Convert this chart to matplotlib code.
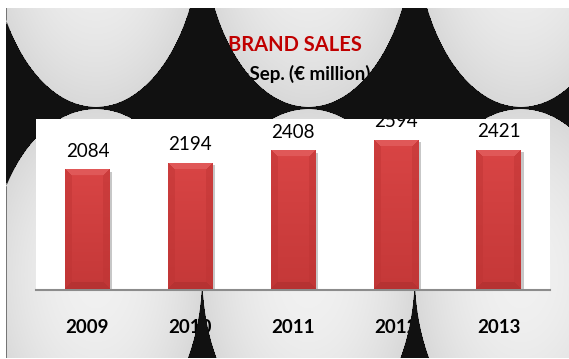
import numpy as np
import matplotlib
matplotlib.use('Agg')
import matplotlib.pyplot as plt
import matplotlib.patheffects as pe
from matplotlib import transforms
from matplotlib.path import Path
from matplotlib.patches import PathPatch, Rectangle

years = ['2009', '2010', '2011', '2012', '2013']
sales = [2084, 2194, 2408, 2594, 2421]

plt.rcParams['font.family'] = ['Lato', 'DejaVu Sans']

W, H = 569, 359
SURROUND = '#111111'
fig = plt.figure(figsize=(W / 100, H / 100), dpi=100)
fig.patch.set_facecolor('white')

# backdrop: tiled grey ellipses on black inside a white frame
ax_bg = fig.add_axes([0, 0, 1, 1])
ax_bg.set_xlim(0, W)
ax_bg.set_ylim(H, 0)
ax_bg.axis('off')

fx0, fy0, fx1, fy1 = 6.5, 8, W, 358
ell_cx = [-116.5, 96, 308.5, 521, 733.5]
ea = 106.25
# (centre y, half height) for each row of ellipses
ell_rows = [(-79, 186), (275, 166)]

field = Rectangle((fx0, fy0), fx1 - fx0, fy1 - fy0, facecolor=SURROUND,
                  edgecolor='none', zorder=0)
ax_bg.add_patch(field)

yy, xx = np.mgrid[0:H, 0:W] + 0.5
r2 = np.full((H, W), np.inf)
for cy, eb in ell_rows:
    for cx in ell_cx:
        r2 = np.minimum(r2, ((xx - cx) / ea) ** 2 + ((yy - cy) / eb) ** 2)
inside = r2 <= 1
shade = (np.clip(0.945 - 0.095 * r2, 0, 1) * 255).astype(np.uint8)
grey = np.zeros((H, W, 4), dtype=np.uint8)
grey[..., 0] = shade
grey[..., 1] = shade
grey[..., 2] = shade
grey[..., 3] = np.where(inside, 255, 0)
im_bg = ax_bg.imshow(grey, extent=(0, W, H, 0), interpolation='nearest', zorder=1)
im_bg.set_clip_path(field)

# dark surround as a vector path (frame minus ellipses), above the titles
theta = np.linspace(0, 2 * np.pi, 241)
verts = [(fx0, fy0), (fx1, fy0), (fx1, fy1), (fx0, fy1), (fx0, fy0)]
codes = [Path.MOVETO] + [Path.LINETO] * 3 + [Path.CLOSEPOLY]
for cy, eb in ell_rows:
    for cx in ell_cx:
        ex = cx + ea * np.cos(-theta)
        ey = cy + eb * np.sin(-theta)
        verts += list(zip(ex, ey))
        codes += [Path.MOVETO] + [Path.LINETO] * (len(ex) - 2) + [Path.CLOSEPOLY]
surround = PathPatch(Path(verts, codes), facecolor=SURROUND, edgecolor='none', zorder=3)
ax_bg.add_patch(surround)
surround.set_clip_path(Rectangle((fx0, fy0), fx1 - fx0, fy1 - fy0, transform=ax_bg.transData))

# titles
ax_bg.text(294.5, 45, 'BRAND SALES', color='#c00000', fontsize=14.5,
           fontweight='bold', ha='center', va='center', zorder=2)
ax_bg.text(285.5, 80, 'Jan.-Sep.', color='black', fontsize=13.5,
           fontweight='bold', ha='right', va='baseline', zorder=2)
ax_bg.text(289, 80, '(€ million)', color='black', fontsize=13.5,
           fontweight='bold', ha='left', va='baseline', zorder=2)

# chart
ax = fig.add_axes([36 / W, (H - 289.5) / H, (550 - 36) / W, (289.5 - 119) / H])
ax.set_facecolor('white')
x = np.arange(len(years))
ax.set_xlim(-0.5, len(years) - 0.5)
ax.set_ylim(0, 2950)
for s in ('top', 'left', 'right'):
    ax.spines[s].set_visible(False)
ax.spines['bottom'].set_color('#8c8c8c')
ax.spines['bottom'].set_linewidth(1.5)
ax.set_xticks([])
ax.set_yticks([])

bars = ax.bar(x, sales, width=0.433, color='#cc3c3c', zorder=2,
              path_effects=[pe.SimplePatchShadow(offset=(2, -2), shadow_rgbFace='black', alpha=0.22),
                            pe.Normal()])


def bevel_image(wpx, hpx, bev=7):
    top = np.array([0.90, 0.40, 0.40])
    upper = np.array([0.85, 0.27, 0.27])
    lower = np.array([0.77, 0.22, 0.22])
    side = np.array([0.74, 0.20, 0.20])
    bottom = np.array([0.68, 0.18, 0.18])
    i, j = np.mgrid[0:hpx, 0:wpx]
    t = i / max(hpx - 1, 1)
    img = upper[None, None, :] * (1 - t[..., None]) + lower[None, None, :] * t[..., None]
    ds = np.minimum(j, wpx - 1 - j)
    db = hpx - 1 - i
    side_zone = (ds < bev) & (ds < i) & (ds < db)
    img[side_zone] = img[side_zone] * 0.55 + side * 0.45
    top_zone = (i < bev) & (i <= ds)
    img[top_zone] = img[top_zone] * 0.4 + top * 0.6
    bot_zone = (db < bev) & (db <= ds)
    img[bot_zone] = img[bot_zone] * 0.4 + bottom * 0.6
    return img


fig.canvas.draw()
for bar in bars:
    x0, x1 = bar.get_x(), bar.get_x() + bar.get_width()
    y1 = bar.get_height()
    (px0, py0), (px1, py1) = ax.transData.transform([(x0, 0), (x1, y1)])
    img = bevel_image(max(int(round(px1 - px0)), 2), max(int(round(py1 - py0)), 2))
    im = ax.imshow(img, extent=(x0, x1, 0, y1), aspect='auto',
                   interpolation='bilinear', zorder=3)
    im.set_clip_path(bar)

ax.set_xlim(-0.5, len(years) - 0.5)
ax.set_ylim(0, 2950)

# value labels, clipped at the top of the plot area
lift = transforms.offset_copy(ax.transData, fig=fig, y=9, units='points')
for xi, v in zip(x, sales):
    t = ax.text(xi, v, str(v), ha='center', va='baseline', fontsize=13.5,
                color='black', transform=lift, zorder=4)
    t.set_clip_on(True)
    t.set_clip_box(ax.bbox)

# year labels sit under the dark surround
under = transforms.blended_transform_factory(ax.transData, ax_bg.transData)
for xi, yr in zip(x, years):
    ax_bg.text(xi, 333, yr, ha='center', va='baseline', fontsize=13.5,
               fontweight='bold', color='black', transform=under, zorder=2)

fig.savefig('out.png', dpi=100)
